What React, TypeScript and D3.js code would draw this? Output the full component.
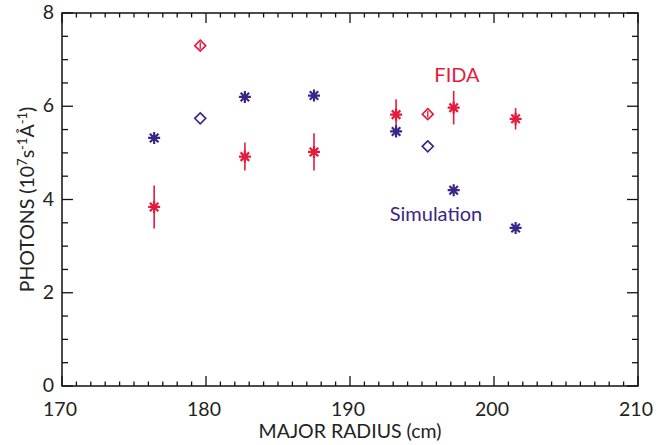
import React from "react";
import * as d3 from "d3";

// radius positions (cm)
const fidaRadius = [176.4, 182.7, 187.5, 193.2, 197.2, 201.5];
const fidaPhotons = [3.84, 4.92, 5.02, 5.82, 5.97, 5.73];
const fidaError = [0.46, 0.3, 0.4, 0.33, 0.36, 0.23];
const simPhotons = [5.32, 6.2, 6.23, 5.46, 4.2, 3.39];

const diamondRadius = [179.6, 195.4];
const fidaDiamond = [7.3, 5.83];
const fidaDiamondErr = [0.07, 0.07];
const simDiamond = [5.74, 5.14];

const xMajor = [170, 180, 190, 200, 210];
const yMajor = [0, 2, 4, 6, 8];

const RED = "#e51a3c";
const BLUE = "#3b2586";
const FONT = "Lato, 'Open Sans', sans-serif";

const W = 672;
const H = 445;
const margin = { top: 13, right: 34, bottom: 59, left: 62 };

const Asterisk = ({ cx, cy, color, r = 6 }) => {
  const d = [0, 45, 90, 135]
    .map(a => {
      const rad = (a * Math.PI) / 180;
      const dx = Math.cos(rad) * r;
      const dy = Math.sin(rad) * r;
      return `M${cx - dx},${cy - dy}L${cx + dx},${cy + dy}`;
    })
    .join("");
  return <path d={d} stroke={color} strokeWidth={2.2} fill="none" />;
};

const Diamond = ({ cx, cy, color, r = 5.5 }) => (
  <path
    d={`M${cx},${cy - r}L${cx + r},${cy}L${cx},${cy + r}L${cx - r},${cy}Z`}
    stroke={color}
    strokeWidth={1.6}
    fill="white"
  />
);

export default function App() {
  const x = d3.scaleLinear().domain([170, 210]).range([margin.left, W - margin.right]);
  const y = d3.scaleLinear().domain([0, 8]).range([H - margin.bottom, margin.top]);

  const x0 = x(170), x1 = x(210), y0 = y(0), y1 = y(8);
  const xMinor = d3.range(171, 210, 1).filter(v => v % 10 !== 0);
  const yMinor = d3.range(0.5, 8, 0.5).filter(v => v % 2 !== 0);

  return (
    <div style={{ position: "absolute", left: 0, top: 0 }}>
      <svg width={W} height={H} style={{ display: "block" }} fontFamily={FONT}>
        <rect width={W} height={H} fill="white" />

        {/* ticks */}
        <g stroke="#111" strokeWidth={1.3}>
          {xMajor.map(v => (
            <g key={"xm" + v}>
              <line x1={x(v)} x2={x(v)} y1={y0} y2={y0 - 10} />
              <line x1={x(v)} x2={x(v)} y1={y1} y2={y1 + 10} />
            </g>
          ))}
          {xMinor.map(v => (
            <g key={"xn" + v}>
              <line x1={x(v)} x2={x(v)} y1={y0} y2={y0 - 4.5} />
              <line x1={x(v)} x2={x(v)} y1={y1} y2={y1 + 4.5} />
            </g>
          ))}
          {yMajor.map(v => (
            <g key={"ym" + v}>
              <line x1={x0} x2={x0 + 11} y1={y(v)} y2={y(v)} />
              <line x1={x1} x2={x1 - 11} y1={y(v)} y2={y(v)} />
            </g>
          ))}
          {yMinor.map(v => (
            <g key={"yn" + v}>
              <line x1={x0} x2={x0 + 6} y1={y(v)} y2={y(v)} />
              <line x1={x1} x2={x1 - 6} y1={y(v)} y2={y(v)} />
            </g>
          ))}
        </g>
        <rect x={x0} y={y1} width={x1 - x0} height={y0 - y1} fill="none" stroke="#111" strokeWidth={1.5} />

        {/* tick labels */}
        {xMajor.map(v => (
          <text key={"xl" + v} x={x(v) - 2} y={y0 + 30} textAnchor="middle" fontSize={19.5} fill="#222">
            {v}
          </text>
        ))}
        {yMajor.map(v => (
          <text key={"yl" + v} x={x0 - 8} y={y(v) + 6} textAnchor="end" fontSize={19.5} fill="#222">
            {v}
          </text>
        ))}

        {/* axis titles */}
        <text x={x(190)} y={H - 7} textAnchor="middle" fontSize={19.5} fill="#222">
          MAJOR RADIUS (cm)
        </text>
        <text
          transform={`translate(34,${(y0 + y1) / 2}) rotate(-90)`}
          textAnchor="middle"
          fontSize={19.5}
          fill="#222"
        >
          PHOTONS (10<tspan fontSize={13} dy={-7}>7</tspan>
          <tspan dy={7}>s</tspan>
          <tspan fontSize={13} dy={-7}>-1</tspan>
          <tspan dy={7}>Å</tspan>
          <tspan fontSize={13} dy={-7}>-1</tspan>
          <tspan dy={7}>)</tspan>
        </text>

        {/* error bars */}
        <g stroke={RED} strokeWidth={1.6}>
          {fidaRadius.map((r, i) => (
            <line
              key={"eb" + i}
              x1={x(r)}
              x2={x(r)}
              y1={y(fidaPhotons[i] - fidaError[i])}
              y2={y(fidaPhotons[i] + fidaError[i])}
            />
          ))}
        </g>

        {/* simulation */}
        {fidaRadius.map((r, i) => (
          <Asterisk key={"s" + i} cx={x(r)} cy={y(simPhotons[i])} color={BLUE} />
        ))}
        {diamondRadius.map((r, i) => (
          <Diamond key={"sd" + i} cx={x(r)} cy={y(simDiamond[i])} color={BLUE} />
        ))}

        {/* FIDA */}
        {fidaRadius.map((r, i) => (
          <Asterisk key={"f" + i} cx={x(r)} cy={y(fidaPhotons[i])} color={RED} />
        ))}
        {diamondRadius.map((r, i) => (
          <g key={"fd" + i}>
            <Diamond cx={x(r)} cy={y(fidaDiamond[i])} color={RED} />
            <line
              x1={x(r)}
              x2={x(r)}
              y1={y(fidaDiamond[i] - fidaDiamondErr[i])}
              y2={y(fidaDiamond[i] + fidaDiamondErr[i])}
              stroke={RED}
              strokeWidth={1.4}
            />
          </g>
        ))}

        <text x={457} y={82} textAnchor="middle" fontSize={20} fill={RED}>
          FIDA
        </text>
        <text x={436} y={221} textAnchor="middle" fontSize={20} fill={BLUE}>
          Simulation
        </text>
      </svg>
    </div>
  );
}
